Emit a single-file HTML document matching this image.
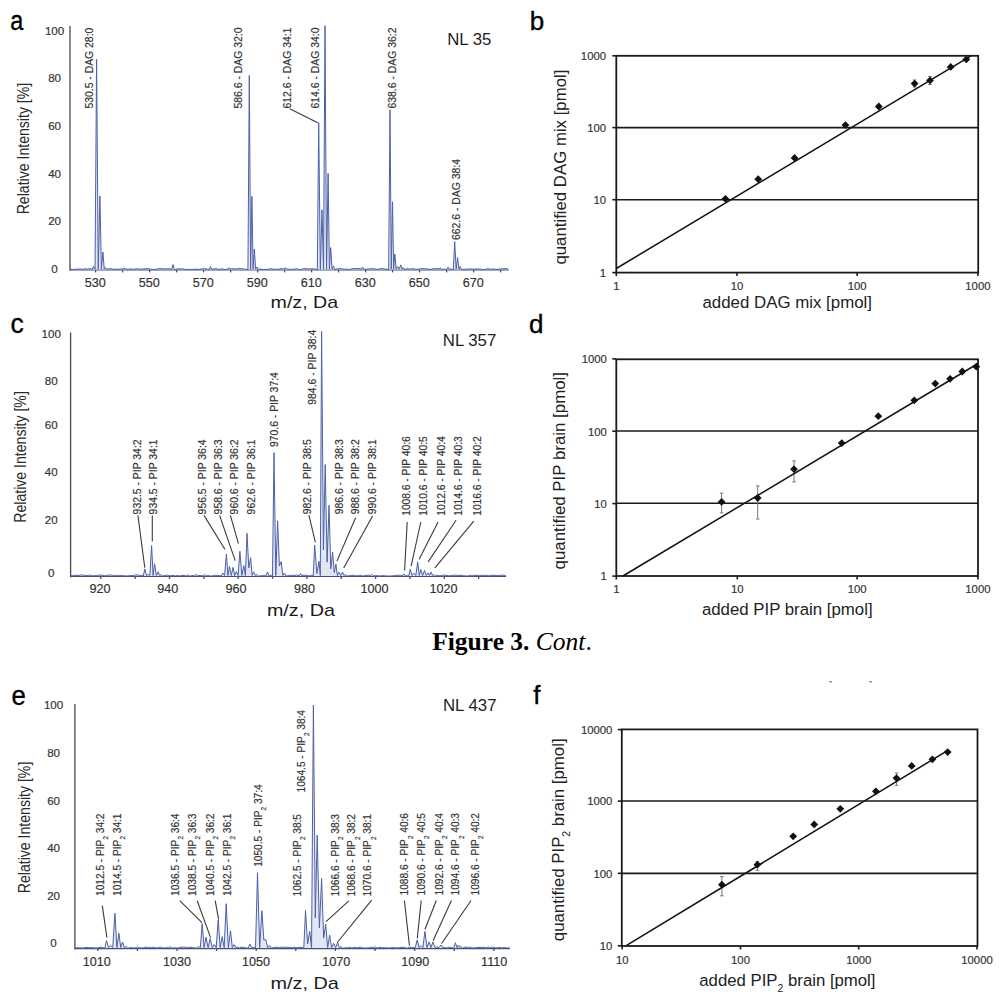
<!DOCTYPE html><html><head><meta charset="utf-8"><style>html,body{margin:0;padding:0;background:#fff;}svg{display:block;}text{font-family:"Liberation Sans",sans-serif;}.w{stroke:#333;stroke-width:0.18px;}</style></head><body>
<svg width="1003" height="1000" viewBox="0 0 1003 1000">
<rect width="1003" height="1000" fill="#fff"/>
<text transform="translate(10.3,29.7) scale(0.84,1)" font-size="28" fill="#000" style="stroke:#000;stroke-width:0.35px">a</text>
<text transform="translate(529.8,29.9) scale(1,1)" font-size="26" fill="#000" style="stroke:#000;stroke-width:0.35px">b</text>
<text transform="translate(10.4,333.1) scale(0.95,1)" font-size="28" fill="#000" style="stroke:#000;stroke-width:0.35px">c</text>
<text transform="translate(528.9,332.9) scale(1,1)" font-size="26" fill="#000" style="stroke:#000;stroke-width:0.35px">d</text>
<text transform="translate(11.4,704.6) scale(0.92,1)" font-size="28" fill="#000" style="stroke:#000;stroke-width:0.35px">e</text>
<text transform="translate(533.3,703.9) scale(1,1)" font-size="26" fill="#000" style="stroke:#000;stroke-width:0.35px">f</text>
<line x1="70.00" y1="270.00" x2="508.60" y2="270.00" stroke="#4a5075" stroke-width="1.2"/>
<line x1="95.60" y1="270.00" x2="95.60" y2="272.40" stroke="#4a5075" stroke-width="1.3"/>
<line x1="122.60" y1="270.00" x2="122.60" y2="272.40" stroke="#4a5075" stroke-width="1.3"/>
<line x1="149.60" y1="270.00" x2="149.60" y2="272.40" stroke="#4a5075" stroke-width="1.3"/>
<line x1="176.60" y1="270.00" x2="176.60" y2="272.40" stroke="#4a5075" stroke-width="1.3"/>
<line x1="203.60" y1="270.00" x2="203.60" y2="272.40" stroke="#4a5075" stroke-width="1.3"/>
<line x1="230.60" y1="270.00" x2="230.60" y2="272.40" stroke="#4a5075" stroke-width="1.3"/>
<line x1="257.60" y1="270.00" x2="257.60" y2="272.40" stroke="#4a5075" stroke-width="1.3"/>
<line x1="284.60" y1="270.00" x2="284.60" y2="272.40" stroke="#4a5075" stroke-width="1.3"/>
<line x1="311.60" y1="270.00" x2="311.60" y2="272.40" stroke="#4a5075" stroke-width="1.3"/>
<line x1="338.60" y1="270.00" x2="338.60" y2="272.40" stroke="#4a5075" stroke-width="1.3"/>
<line x1="365.60" y1="270.00" x2="365.60" y2="272.40" stroke="#4a5075" stroke-width="1.3"/>
<line x1="392.60" y1="270.00" x2="392.60" y2="272.40" stroke="#4a5075" stroke-width="1.3"/>
<line x1="419.60" y1="270.00" x2="419.60" y2="272.40" stroke="#4a5075" stroke-width="1.3"/>
<line x1="446.60" y1="270.00" x2="446.60" y2="272.40" stroke="#4a5075" stroke-width="1.3"/>
<line x1="473.60" y1="270.00" x2="473.60" y2="272.40" stroke="#4a5075" stroke-width="1.3"/>
<line x1="500.60" y1="270.00" x2="500.60" y2="272.40" stroke="#4a5075" stroke-width="1.3"/>
<path d="M70.00,269.50 L72.15,269.35 L74.92,269.43 L77.48,269.13 L79.19,268.99 L80.86,269.07 L82.58,269.41 L84.95,268.67 L86.77,269.28 L89.50,268.55 L92.15,269.50 L93.50,266.50 L95.05,269.00 L96.60,59.40 L98.25,269.00 L99.90,196.00 L101.40,269.00 L102.90,252.00 L104.25,269.00 L105.60,267.50 L106.95,269.50 L109.24,268.52 L110.93,268.64 L113.05,269.36 L114.86,269.19 L117.93,269.32 L120.58,268.86 L122.80,269.20 L124.00,268.00 L125.20,269.20 L126.50,268.95 L128.21,269.44 L130.18,268.82 L132.55,269.19 L135.21,269.05 L137.35,268.71 L140.21,269.26 L142.84,268.97 L146.01,268.77 L148.13,268.52 L149.95,269.08 L152.91,269.35 L155.39,269.46 L158.19,268.74 L160.82,268.62 L162.99,268.80 L165.66,268.92 L168.08,268.66 L171.38,269.03 L171.80,269.20 L173.00,264.50 L174.20,269.20 L175.50,269.44 L178.36,268.85 L181.75,268.68 L183.86,269.11 L186.67,269.48 L189.10,269.33 L190.91,269.44 L193.89,269.37 L195.94,269.11 L199.11,269.42 L201.51,268.95 L204.70,268.68 L207.86,269.22 L209.30,269.20 L210.50,266.50 L211.70,269.20 L213.00,269.14 L216.19,268.54 L218.06,269.32 L220.08,269.27 L222.55,268.91 L224.63,269.50 L226.98,269.13 L227.80,269.20 L229.00,267.80 L230.20,269.20 L231.50,268.55 L234.34,268.98 L237.05,268.82 L238.75,268.60 L241.76,268.63 L244.79,269.11 L247.95,269.50 L249.30,75.40 L250.60,269.00 L251.90,196.30 L253.10,269.00 L254.30,249.00 L255.65,269.00 L257.00,267.00 L258.35,269.50 L260.06,268.87 L261.77,269.43 L263.74,269.34 L265.96,269.45 L267.56,269.35 L269.34,269.14 L270.99,268.63 L273.69,269.35 L275.75,269.15 L278.00,269.38 L281.13,268.51 L283.80,269.20 L285.00,267.60 L286.20,269.20 L287.50,269.02 L289.25,269.40 L291.47,269.24 L294.56,269.34 L296.20,268.55 L298.76,269.35 L301.33,269.47 L303.88,268.52 L307.04,268.80 L309.11,269.13 L311.01,268.73 L313.57,268.72 L315.76,269.28 L317.35,269.50 L318.70,122.70 L320.35,269.00 L322.00,209.90 L323.50,269.00 L325.00,25.70 L326.55,269.00 L328.10,173.40 L329.40,269.00 L330.70,247.60 L332.05,269.00 L333.40,266.00 L334.75,269.50 L338.22,268.65 L341.27,268.68 L344.20,269.27 L346.73,269.14 L348.39,269.47 L350.49,269.24 L353.34,268.54 L355.74,268.56 L359.12,268.54 L361.30,269.20 L362.50,267.00 L363.70,269.20 L365.00,269.28 L367.01,269.30 L368.98,268.88 L372.20,268.66 L374.66,268.85 L377.70,269.42 L380.49,268.59 L383.50,268.75 L385.96,269.32 L388.65,269.50 L390.00,109.90 L391.25,269.00 L392.50,201.80 L393.65,269.00 L394.80,254.00 L396.20,269.00 L397.60,266.50 L399.20,269.00 L400.80,264.90 L402.05,269.00 L403.30,267.50 L404.65,269.50 L406.82,268.70 L410.16,269.10 L412.49,268.55 L415.39,269.33 L417.22,269.35 L420.45,268.69 L422.31,268.67 L425.68,268.84 L427.91,268.95 L429.74,269.49 L433.09,268.85 L435.64,268.57 L438.02,268.63 L438.80,269.20 L440.00,267.80 L441.20,269.20 L442.50,269.29 L444.55,269.21 L446.80,269.20 L448.00,267.20 L449.20,269.20 L450.50,268.91 L453.35,269.50 L454.70,241.60 L456.15,269.00 L457.60,257.60 L458.90,269.00 L460.20,266.50 L461.55,269.50 L463.89,269.37 L467.13,269.15 L469.55,268.92 L472.78,269.08 L476.03,269.00 L478.59,268.98 L480.22,269.06 L482.15,269.50 L485.19,269.33 L487.64,268.77 L490.24,269.17 L492.78,268.94 L495.79,269.39 L498.40,269.25 L500.50,268.73 L503.01,268.94 L505.98,268.59 L508.60,269.50" fill="#b9c2e2" fill-opacity="0.4" stroke="#4d60a8" stroke-width="1.0" stroke-linejoin="round"/>
<line x1="70.00" y1="26.00" x2="70.00" y2="270.80" stroke="#4a4a4a" stroke-width="1.3"/>
<text x="54.60" y="34.60" font-size="11.6" text-anchor="middle" fill="#333" class="w">100</text>
<text x="54.60" y="82.30" font-size="11.6" text-anchor="middle" fill="#333" class="w">80</text>
<text x="54.60" y="129.90" font-size="11.6" text-anchor="middle" fill="#333" class="w">60</text>
<text x="54.60" y="177.60" font-size="11.6" text-anchor="middle" fill="#333" class="w">40</text>
<text x="54.60" y="225.20" font-size="11.6" text-anchor="middle" fill="#333" class="w">20</text>
<text x="54.60" y="272.90" font-size="11.6" text-anchor="middle" fill="#333" class="w">0</text>
<text x="95.30" y="286.50" font-size="12.6" text-anchor="middle" fill="#333" class="w">530</text>
<text x="149.30" y="286.50" font-size="12.6" text-anchor="middle" fill="#333" class="w">550</text>
<text x="203.30" y="286.50" font-size="12.6" text-anchor="middle" fill="#333" class="w">570</text>
<text x="257.30" y="286.50" font-size="12.6" text-anchor="middle" fill="#333" class="w">590</text>
<text x="311.30" y="286.50" font-size="12.6" text-anchor="middle" fill="#333" class="w">610</text>
<text x="365.30" y="286.50" font-size="12.6" text-anchor="middle" fill="#333" class="w">630</text>
<text x="419.30" y="286.50" font-size="12.6" text-anchor="middle" fill="#333" class="w">650</text>
<text x="473.30" y="286.50" font-size="12.6" text-anchor="middle" fill="#333" class="w">670</text>
<text x="270.60" y="308.10" font-size="16.4" text-anchor="start" fill="#1a1a1a" textLength="67.5" lengthAdjust="spacingAndGlyphs" >m/z, Da</text>
<text transform="translate(29.00,214.30) rotate(-90)" font-size="16" fill="#2a2a2a" textLength="131.5" lengthAdjust="spacingAndGlyphs">Relative Intensity [%]</text>
<text x="447.20" y="45.00" font-size="16.8" text-anchor="start" fill="#1e1e1e" >NL 35</text>
<text transform="translate(92.51,108.60) rotate(-90) scale(0.93,1)" font-size="11.2" fill="#333" class="w">530.5 - DAG 28:0</text>
<text transform="translate(242.31,108.50) rotate(-90) scale(0.93,1)" font-size="11.2" fill="#333" class="w">586.6 - DAG 32:0</text>
<text transform="translate(290.81,108.50) rotate(-90) scale(0.93,1)" font-size="11.2" fill="#333" class="w">612.6 - DAG 34:1</text>
<text transform="translate(318.71,108.50) rotate(-90) scale(0.93,1)" font-size="11.2" fill="#333" class="w">614.6 - DAG 34:0</text>
<text transform="translate(395.51,108.50) rotate(-90) scale(0.93,1)" font-size="11.2" fill="#333" class="w">638.6 - DAG 36:2</text>
<text transform="translate(460.31,240.00) rotate(-90) scale(0.93,1)" font-size="11.2" fill="#333" class="w">662.6 - DAG 38:4</text>
<line x1="289.80" y1="108.70" x2="317.70" y2="122.70" stroke="#3a3a3a" stroke-width="1.1"/>
<line x1="70.60" y1="576.50" x2="506.10" y2="576.50" stroke="#4a5075" stroke-width="1.2"/>
<line x1="100.80" y1="576.50" x2="100.80" y2="578.90" stroke="#4a5075" stroke-width="1.3"/>
<line x1="135.15" y1="576.50" x2="135.15" y2="578.90" stroke="#4a5075" stroke-width="1.3"/>
<line x1="169.50" y1="576.50" x2="169.50" y2="578.90" stroke="#4a5075" stroke-width="1.3"/>
<line x1="203.85" y1="576.50" x2="203.85" y2="578.90" stroke="#4a5075" stroke-width="1.3"/>
<line x1="238.20" y1="576.50" x2="238.20" y2="578.90" stroke="#4a5075" stroke-width="1.3"/>
<line x1="272.55" y1="576.50" x2="272.55" y2="578.90" stroke="#4a5075" stroke-width="1.3"/>
<line x1="306.90" y1="576.50" x2="306.90" y2="578.90" stroke="#4a5075" stroke-width="1.3"/>
<line x1="341.25" y1="576.50" x2="341.25" y2="578.90" stroke="#4a5075" stroke-width="1.3"/>
<line x1="375.60" y1="576.50" x2="375.60" y2="578.90" stroke="#4a5075" stroke-width="1.3"/>
<line x1="409.95" y1="576.50" x2="409.95" y2="578.90" stroke="#4a5075" stroke-width="1.3"/>
<line x1="444.30" y1="576.50" x2="444.30" y2="578.90" stroke="#4a5075" stroke-width="1.3"/>
<line x1="478.65" y1="576.50" x2="478.65" y2="578.90" stroke="#4a5075" stroke-width="1.3"/>
<path d="M70.60,576.00 L73.33,575.49 L75.85,575.31 L78.26,575.47 L80.72,575.06 L83.58,575.12 L86.88,575.74 L89.48,575.06 L92.60,575.86 L94.41,575.56 L96.14,575.76 L97.88,575.33 L100.89,575.10 L102.77,575.28 L105.55,575.86 L108.74,575.03 L110.74,575.05 L113.06,575.51 L113.80,575.70 L115.00,575.00 L116.20,575.70 L117.50,575.17 L119.39,575.57 L121.92,575.66 L123.87,575.68 L126.77,575.98 L129.37,575.56 L131.00,575.67 L133.72,575.49 L135.44,575.01 L138.46,575.03 L140.25,575.73 L141.92,575.22 L143.30,576.00 L144.80,568.90 L146.50,575.50 L148.20,574.50 L149.90,575.50 L151.60,545.50 L153.10,575.50 L154.60,563.80 L156.40,575.50 L158.20,571.90 L159.60,575.50 L161.00,574.50 L162.50,576.00 L164.26,575.58 L167.50,575.18 L169.57,575.85 L172.82,575.43 L175.68,575.91 L177.38,575.31 L179.75,575.93 L183.04,575.37 L186.08,575.92 L186.80,575.70 L188.00,574.80 L189.20,575.70 L190.50,575.93 L193.65,575.55 L194.80,575.70 L196.00,574.30 L197.20,575.70 L198.50,575.45 L201.77,575.73 L203.80,575.70 L205.00,574.50 L206.20,575.70 L207.50,575.47 L209.53,575.89 L211.42,575.95 L213.38,575.69 L215.53,575.24 L217.65,575.50 L219.57,575.65 L221.30,576.00 L222.80,573.00 L224.60,575.50 L226.40,554.00 L227.95,575.50 L229.50,566.50 L231.25,575.50 L233.00,567.40 L234.65,575.50 L236.30,571.50 L238.10,575.50 L239.90,551.30 L241.85,575.50 L243.80,565.60 L245.40,575.50 L247.00,533.30 L248.80,568.00 L250.60,557.60 L252.15,575.50 L253.70,571.90 L255.35,575.50 L257.00,574.50 L258.50,576.00 L260.50,575.98 L263.42,575.45 L266.00,576.00 L267.50,571.90 L269.00,576.00 L271.45,575.07 L272.50,576.00 L274.00,452.60 L275.80,575.50 L277.60,520.80 L279.40,566.00 L281.20,561.70 L282.85,575.50 L284.50,573.00 L286.00,576.00 L289.14,575.57 L291.63,575.17 L293.94,575.49 L296.77,575.02 L299.30,575.70 L300.50,573.50 L301.70,575.70 L303.00,575.17 L305.87,575.36 L308.20,575.65 L309.90,575.87 L311.63,575.26 L313.20,576.00 L314.70,545.10 L316.85,573.60 L319.00,561.30 L320.30,575.50 L321.60,331.50 L323.40,549.90 L325.20,464.50 L327.10,562.20 L329.00,505.20 L330.80,568.90 L332.60,552.20 L334.25,572.70 L335.90,564.10 L337.40,575.50 L338.90,572.10 L340.75,575.50 L342.60,572.10 L344.05,575.50 L345.50,574.50 L347.00,576.00 L348.83,575.92 L351.94,575.13 L354.75,575.72 L356.78,575.71 L358.80,575.70 L360.00,574.80 L361.20,575.70 L362.50,575.84 L364.90,575.74 L368.23,575.03 L370.80,575.70 L372.00,574.40 L373.20,575.70 L374.50,575.76 L377.84,575.69 L380.08,576.00 L382.37,575.53 L384.87,575.80 L387.38,576.00 L389.46,575.91 L391.78,575.96 L393.42,575.70 L395.43,575.41 L397.99,575.25 L400.77,575.28 L402.30,576.00 L403.80,573.80 L405.30,576.00 L407.58,575.67 L408.70,576.00 L410.20,569.20 L412.05,575.50 L413.90,573.20 L415.80,575.50 L417.70,561.90 L419.25,575.50 L420.80,569.50 L422.65,575.50 L424.50,570.40 L426.30,575.50 L428.10,572.90 L429.55,575.50 L431.00,572.00 L432.50,575.50 L434.00,574.50 L435.50,576.00 L437.30,575.28 L440.06,575.96 L443.16,575.11 L445.89,575.27 L448.95,575.86 L451.49,575.50 L454.60,575.20 L457.68,575.42 L460.89,575.32 L463.74,575.77 L465.40,575.87 L467.65,575.90 L468.80,575.70 L470.00,575.00 L471.20,575.70 L472.50,575.44 L475.23,575.37 L478.06,575.51 L479.66,575.20 L482.61,575.50 L485.17,575.34 L486.89,575.26 L488.94,575.93 L491.02,575.27 L492.99,575.26 L496.35,575.51 L498.64,575.52 L501.47,575.23 L504.18,575.36 L506.10,576.00" fill="#b9c2e2" fill-opacity="0.4" stroke="#4d60a8" stroke-width="1.0" stroke-linejoin="round"/>
<line x1="70.60" y1="332.60" x2="70.60" y2="577.30" stroke="#4a4a4a" stroke-width="1.3"/>
<text x="51.20" y="337.70" font-size="11.6" text-anchor="middle" fill="#333" class="w">100</text>
<text x="51.20" y="385.30" font-size="11.6" text-anchor="middle" fill="#333" class="w">80</text>
<text x="51.20" y="428.50" font-size="11.6" text-anchor="middle" fill="#333" class="w">60</text>
<text x="51.20" y="476.20" font-size="11.6" text-anchor="middle" fill="#333" class="w">40</text>
<text x="51.20" y="523.80" font-size="11.6" text-anchor="middle" fill="#333" class="w">20</text>
<text x="51.20" y="576.50" font-size="11.6" text-anchor="middle" fill="#333" class="w">0</text>
<text x="100.10" y="592.90" font-size="12.6" text-anchor="middle" fill="#333" class="w">920</text>
<text x="167.80" y="592.90" font-size="12.6" text-anchor="middle" fill="#333" class="w">940</text>
<text x="236.10" y="592.90" font-size="12.6" text-anchor="middle" fill="#333" class="w">960</text>
<text x="304.60" y="592.90" font-size="12.6" text-anchor="middle" fill="#333" class="w">980</text>
<text x="374.50" y="592.90" font-size="12.6" text-anchor="middle" fill="#333" class="w">1000</text>
<text x="443.40" y="592.90" font-size="12.6" text-anchor="middle" fill="#333" class="w">1020</text>
<text x="266.90" y="616.00" font-size="16.4" text-anchor="start" fill="#1a1a1a" textLength="68.0" lengthAdjust="spacingAndGlyphs" >m/z, Da</text>
<text transform="translate(26.00,522.70) rotate(-90)" font-size="16" fill="#2a2a2a" textLength="131.5" lengthAdjust="spacingAndGlyphs">Relative Intensity [%]</text>
<text x="442.80" y="346.40" font-size="16.8" text-anchor="start" fill="#1e1e1e" >NL 357</text>
<text transform="translate(140.51,514.40) rotate(-90) scale(0.93,1)" font-size="11.2" fill="#333" class="w">932.5 - PIP 34:2</text>
<text transform="translate(157.21,514.40) rotate(-90) scale(0.93,1)" font-size="11.2" fill="#333" class="w">934.5 - PIP 34:1</text>
<text transform="translate(205.71,514.40) rotate(-90) scale(0.93,1)" font-size="11.2" fill="#333" class="w">956.5 - PIP 36:4</text>
<text transform="translate(221.81,514.40) rotate(-90) scale(0.93,1)" font-size="11.2" fill="#333" class="w">958.6 - PIP 36:3</text>
<text transform="translate(238.01,514.40) rotate(-90) scale(0.93,1)" font-size="11.2" fill="#333" class="w">960.6 - PIP 36:2</text>
<text transform="translate(254.71,514.40) rotate(-90) scale(0.93,1)" font-size="11.2" fill="#333" class="w">962.6 - PIP 36:1</text>
<text transform="translate(277.71,447.10) rotate(-90) scale(0.93,1)" font-size="11.2" fill="#333" class="w">970.6 - PIP 37:4</text>
<text transform="translate(311.21,514.30) rotate(-90) scale(0.93,1)" font-size="11.2" fill="#333" class="w">982.6 - PIP 38:5</text>
<text transform="translate(315.91,404.70) rotate(-90) scale(0.93,1)" font-size="11.2" fill="#333" class="w">984.6 - PIP 38:4</text>
<text transform="translate(342.61,514.30) rotate(-90) scale(0.93,1)" font-size="11.2" fill="#333" class="w">986.6 - PIP 38:3</text>
<text transform="translate(359.31,514.30) rotate(-90) scale(0.93,1)" font-size="11.2" fill="#333" class="w">988.6 - PIP 38:2</text>
<text transform="translate(375.81,514.30) rotate(-90) scale(0.93,1)" font-size="11.2" fill="#333" class="w">990.6 - PIP 38:1</text>
<text transform="translate(409.81,515.80) rotate(-90) scale(0.915,1)" font-size="11.2" fill="#333" class="w">1008.6 - PIP 40:6</text>
<text transform="translate(427.31,515.80) rotate(-90) scale(0.915,1)" font-size="11.2" fill="#333" class="w">1010.6 - PIP 40:5</text>
<text transform="translate(444.81,515.80) rotate(-90) scale(0.915,1)" font-size="11.2" fill="#333" class="w">1012.6 - PIP 40:4</text>
<text transform="translate(462.21,515.80) rotate(-90) scale(0.915,1)" font-size="11.2" fill="#333" class="w">1014.6 - PIP 40:3</text>
<text transform="translate(481.21,515.80) rotate(-90) scale(0.915,1)" font-size="11.2" fill="#333" class="w">1016.6 - PIP 40:2</text>
<line x1="137.90" y1="515.40" x2="144.80" y2="567.80" stroke="#3a3a3a" stroke-width="1.1"/>
<line x1="152.30" y1="515.40" x2="152.30" y2="541.40" stroke="#3a3a3a" stroke-width="1.1"/>
<line x1="204.00" y1="515.40" x2="225.00" y2="549.50" stroke="#3a3a3a" stroke-width="1.1"/>
<line x1="219.60" y1="515.40" x2="235.20" y2="560.60" stroke="#3a3a3a" stroke-width="1.1"/>
<line x1="230.40" y1="515.40" x2="238.40" y2="543.70" stroke="#3a3a3a" stroke-width="1.1"/>
<line x1="308.90" y1="515.20" x2="315.40" y2="542.40" stroke="#3a3a3a" stroke-width="1.1"/>
<line x1="355.60" y1="517.70" x2="336.90" y2="561.10" stroke="#3a3a3a" stroke-width="1.1"/>
<line x1="372.60" y1="516.00" x2="343.70" y2="567.90" stroke="#3a3a3a" stroke-width="1.1"/>
<line x1="407.20" y1="522.00" x2="404.60" y2="570.40" stroke="#3a3a3a" stroke-width="1.1"/>
<line x1="420.80" y1="522.00" x2="411.10" y2="566.10" stroke="#3a3a3a" stroke-width="1.1"/>
<line x1="438.10" y1="522.00" x2="419.10" y2="559.30" stroke="#3a3a3a" stroke-width="1.1"/>
<line x1="456.10" y1="520.20" x2="428.10" y2="561.90" stroke="#3a3a3a" stroke-width="1.1"/>
<line x1="473.80" y1="521.10" x2="434.90" y2="567.80" stroke="#3a3a3a" stroke-width="1.1"/>
<line x1="74.90" y1="948.60" x2="510.00" y2="948.60" stroke="#4a5075" stroke-width="1.2"/>
<line x1="97.80" y1="948.60" x2="97.80" y2="951.00" stroke="#4a5075" stroke-width="1.3"/>
<line x1="137.40" y1="948.60" x2="137.40" y2="951.00" stroke="#4a5075" stroke-width="1.3"/>
<line x1="177.00" y1="948.60" x2="177.00" y2="951.00" stroke="#4a5075" stroke-width="1.3"/>
<line x1="216.60" y1="948.60" x2="216.60" y2="951.00" stroke="#4a5075" stroke-width="1.3"/>
<line x1="256.20" y1="948.60" x2="256.20" y2="951.00" stroke="#4a5075" stroke-width="1.3"/>
<line x1="295.80" y1="948.60" x2="295.80" y2="951.00" stroke="#4a5075" stroke-width="1.3"/>
<line x1="335.40" y1="948.60" x2="335.40" y2="951.00" stroke="#4a5075" stroke-width="1.3"/>
<line x1="375.00" y1="948.60" x2="375.00" y2="951.00" stroke="#4a5075" stroke-width="1.3"/>
<line x1="414.60" y1="948.60" x2="414.60" y2="951.00" stroke="#4a5075" stroke-width="1.3"/>
<line x1="454.20" y1="948.60" x2="454.20" y2="951.00" stroke="#4a5075" stroke-width="1.3"/>
<line x1="493.80" y1="948.60" x2="493.80" y2="951.00" stroke="#4a5075" stroke-width="1.3"/>
<path d="M74.90,948.10 L76.69,947.85 L79.63,947.80 L82.25,948.09 L83.96,947.83 L86.77,947.41 L89.59,947.81 L92.12,947.64 L94.56,947.98 L97.77,947.90 L101.13,947.16 L102.76,947.64 L104.80,948.10 L106.50,940.60 L108.55,947.60 L110.60,945.50 L112.75,947.60 L114.90,913.30 L116.90,947.60 L118.90,933.20 L120.70,947.60 L122.50,942.00 L124.35,947.60 L126.20,946.50 L127.90,948.10 L131.34,947.65 L133.42,947.89 L136.30,947.80 L137.50,946.50 L138.70,947.80 L140.00,947.89 L142.65,947.96 L145.19,947.15 L147.03,947.28 L148.80,947.80 L150.00,947.00 L151.20,947.80 L152.50,947.21 L155.37,947.87 L158.80,947.80 L160.00,946.80 L161.20,947.80 L162.50,947.61 L164.14,948.10 L166.63,947.65 L168.80,947.80 L170.00,946.50 L171.20,947.80 L172.50,947.96 L174.72,947.78 L177.83,948.10 L180.78,947.26 L182.60,947.17 L185.48,947.20 L187.60,947.73 L189.91,947.10 L192.57,947.74 L194.94,947.82 L196.80,948.10 L198.50,946.50 L200.35,947.60 L202.20,923.60 L204.10,947.60 L206.00,937.20 L208.10,947.60 L210.20,938.60 L212.20,947.60 L214.20,944.50 L216.20,947.60 L218.20,919.60 L220.20,947.60 L222.20,936.60 L224.20,947.60 L226.20,903.70 L228.35,947.60 L230.50,930.60 L232.30,947.60 L234.10,944.60 L235.85,947.60 L237.60,947.00 L239.30,948.10 L241.00,947.27 L243.12,947.16 L245.17,947.83 L248.20,948.10 L249.90,944.00 L251.70,947.60 L253.50,947.50 L255.50,947.60 L257.50,872.80 L259.70,947.60 L261.90,910.70 L263.85,940.00 L265.80,939.60 L267.65,947.60 L269.50,945.50 L271.20,948.10 L273.08,947.73 L276.40,947.22 L279.46,947.47 L282.71,947.16 L285.30,947.38 L286.98,947.37 L289.40,947.35 L292.16,947.81 L293.84,947.17 L295.67,947.63 L297.89,947.80 L300.82,947.12 L303.80,948.10 L305.50,910.50 L307.60,944.00 L309.70,931.30 L311.55,947.60 L313.40,705.10 L315.30,917.70 L317.20,835.20 L319.40,928.00 L321.60,878.50 L323.65,938.00 L325.70,924.10 L327.65,947.60 L329.60,935.30 L331.65,947.60 L333.70,943.30 L335.65,947.60 L337.60,942.50 L339.30,947.60 L341.00,946.50 L342.70,948.10 L345.51,947.80 L348.12,947.71 L348.80,947.80 L350.00,946.80 L351.20,947.80 L352.50,947.94 L354.47,947.19 L356.97,947.88 L360.20,947.10 L362.61,947.96 L364.56,948.01 L366.77,948.01 L368.80,947.84 L371.43,947.21 L373.80,947.80 L375.00,946.50 L376.20,947.80 L377.50,947.69 L378.80,947.80 L380.00,947.00 L381.20,947.80 L382.50,947.58 L384.78,947.76 L386.49,947.82 L389.83,947.97 L392.34,947.47 L395.49,947.88 L397.58,947.85 L399.90,947.65 L403.22,947.25 L406.39,948.08 L407.70,948.10 L409.40,947.00 L411.35,947.60 L413.30,947.50 L415.25,947.60 L417.20,939.90 L419.05,947.60 L420.90,945.50 L422.90,947.60 L424.90,931.50 L427.00,947.60 L429.10,941.90 L431.00,947.60 L432.90,941.90 L434.90,947.60 L436.90,947.00 L439.00,947.60 L441.10,945.00 L442.80,947.60 L444.50,947.30 L446.20,948.10 L449.12,947.20 L451.57,947.51 L453.70,948.10 L455.40,942.70 L456.95,947.60 L458.50,945.00 L459.75,947.60 L461.00,946.50 L462.70,948.10 L464.98,947.17 L468.07,947.24 L468.80,947.80 L470.00,947.00 L471.20,947.80 L472.50,947.85 L474.30,947.95 L476.84,947.42 L480.13,947.38 L482.90,947.34 L485.32,947.55 L486.80,947.80 L488.00,946.80 L489.20,947.80 L490.50,947.32 L492.52,947.18 L495.28,947.80 L497.11,947.85 L499.86,947.40 L501.66,948.03 L504.20,947.52 L506.50,947.88 L510.00,948.10" fill="#b9c2e2" fill-opacity="0.4" stroke="#4d60a8" stroke-width="1.0" stroke-linejoin="round"/>
<line x1="74.90" y1="704.00" x2="74.90" y2="949.40" stroke="#4a4a4a" stroke-width="1.3"/>
<text x="53.60" y="708.80" font-size="11.6" text-anchor="middle" fill="#333" class="w">100</text>
<text x="53.60" y="757.30" font-size="11.6" text-anchor="middle" fill="#333" class="w">80</text>
<text x="53.60" y="804.70" font-size="11.6" text-anchor="middle" fill="#333" class="w">60</text>
<text x="53.60" y="852.40" font-size="11.6" text-anchor="middle" fill="#333" class="w">40</text>
<text x="53.60" y="900.00" font-size="11.6" text-anchor="middle" fill="#333" class="w">20</text>
<text x="53.60" y="947.10" font-size="11.6" text-anchor="middle" fill="#333" class="w">0</text>
<text x="96.70" y="965.90" font-size="12.6" text-anchor="middle" fill="#333" class="w">1010</text>
<text x="177.00" y="965.90" font-size="12.6" text-anchor="middle" fill="#333" class="w">1030</text>
<text x="256.00" y="965.90" font-size="12.6" text-anchor="middle" fill="#333" class="w">1050</text>
<text x="336.20" y="965.90" font-size="12.6" text-anchor="middle" fill="#333" class="w">1070</text>
<text x="415.20" y="965.90" font-size="12.6" text-anchor="middle" fill="#333" class="w">1090</text>
<text x="494.20" y="965.90" font-size="12.6" text-anchor="middle" fill="#333" class="w">1110</text>
<text x="270.60" y="989.00" font-size="16.4" text-anchor="start" fill="#1a1a1a" textLength="68.2" lengthAdjust="spacingAndGlyphs" >m/z, Da</text>
<text transform="translate(30.00,893.20) rotate(-90)" font-size="16" fill="#2a2a2a" textLength="131.5" lengthAdjust="spacingAndGlyphs">Relative Intensity [%]</text>
<text x="443.00" y="710.50" font-size="16.8" text-anchor="start" fill="#1e1e1e" >NL 437</text>
<text transform="translate(104.17,896.00) rotate(-90) scale(0.94,1)" font-size="10.8" fill="#333" class="w">1012.5 - PIP<tspan font-size="6.8" dy="4.2">2</tspan><tspan dy="-4.2"> 34:2</tspan></text>
<text transform="translate(120.77,896.00) rotate(-90) scale(0.94,1)" font-size="10.8" fill="#333" class="w">1014.5 - PIP<tspan font-size="6.8" dy="4.2">2</tspan><tspan dy="-4.2"> 34:1</tspan></text>
<text transform="translate(179.07,896.00) rotate(-90) scale(0.94,1)" font-size="10.8" fill="#333" class="w">1036.5 - PIP<tspan font-size="6.8" dy="4.2">2</tspan><tspan dy="-4.2"> 36:4</tspan></text>
<text transform="translate(196.07,896.00) rotate(-90) scale(0.94,1)" font-size="10.8" fill="#333" class="w">1038.5 - PIP<tspan font-size="6.8" dy="4.2">2</tspan><tspan dy="-4.2"> 36:3</tspan></text>
<text transform="translate(213.97,896.00) rotate(-90) scale(0.94,1)" font-size="10.8" fill="#333" class="w">1040.5 - PIP<tspan font-size="6.8" dy="4.2">2</tspan><tspan dy="-4.2"> 36:2</tspan></text>
<text transform="translate(230.57,896.00) rotate(-90) scale(0.94,1)" font-size="10.8" fill="#333" class="w">1042.5 - PIP<tspan font-size="6.8" dy="4.2">2</tspan><tspan dy="-4.2"> 36:1</tspan></text>
<text transform="translate(261.97,866.80) rotate(-90) scale(0.94,1)" font-size="10.8" fill="#333" class="w">1050.5 - PIP<tspan font-size="6.8" dy="4.2">2</tspan><tspan dy="-4.2"> 37:4</tspan></text>
<text transform="translate(300.87,896.50) rotate(-90) scale(0.94,1)" font-size="10.8" fill="#333" class="w">1062.5 - PIP<tspan font-size="6.8" dy="4.2">2</tspan><tspan dy="-4.2"> 38:5</tspan></text>
<text transform="translate(304.87,792.50) rotate(-90) scale(0.94,1)" font-size="10.8" fill="#333" class="w">1064.5 - PIP<tspan font-size="6.8" dy="4.2">2</tspan><tspan dy="-4.2"> 38:4</tspan></text>
<text transform="translate(338.97,896.50) rotate(-90) scale(0.94,1)" font-size="10.8" fill="#333" class="w">1066.6 - PIP<tspan font-size="6.8" dy="4.2">2</tspan><tspan dy="-4.2"> 38:3</tspan></text>
<text transform="translate(355.37,896.50) rotate(-90) scale(0.94,1)" font-size="10.8" fill="#333" class="w">1068.6 - PIP<tspan font-size="6.8" dy="4.2">2</tspan><tspan dy="-4.2"> 38:2</tspan></text>
<text transform="translate(371.37,896.50) rotate(-90) scale(0.94,1)" font-size="10.8" fill="#333" class="w">1070.6 - PIP<tspan font-size="6.8" dy="4.2">2</tspan><tspan dy="-4.2"> 38:1</tspan></text>
<text transform="translate(408.47,895.50) rotate(-90) scale(0.94,1)" font-size="10.8" fill="#333" class="w">1088.6 - PIP<tspan font-size="6.8" dy="4.2">2</tspan><tspan dy="-4.2"> 40:6</tspan></text>
<text transform="translate(425.27,895.50) rotate(-90) scale(0.94,1)" font-size="10.8" fill="#333" class="w">1090.6 - PIP<tspan font-size="6.8" dy="4.2">2</tspan><tspan dy="-4.2"> 40:5</tspan></text>
<text transform="translate(442.67,895.50) rotate(-90) scale(0.94,1)" font-size="10.8" fill="#333" class="w">1092.6 - PIP<tspan font-size="6.8" dy="4.2">2</tspan><tspan dy="-4.2"> 40:4</tspan></text>
<text transform="translate(459.47,895.50) rotate(-90) scale(0.94,1)" font-size="10.8" fill="#333" class="w">1094.6 - PIP<tspan font-size="6.8" dy="4.2">2</tspan><tspan dy="-4.2"> 40:3</tspan></text>
<text transform="translate(479.07,895.50) rotate(-90) scale(0.94,1)" font-size="10.8" fill="#333" class="w">1096.6 - PIP<tspan font-size="6.8" dy="4.2">2</tspan><tspan dy="-4.2"> 40:2</tspan></text>
<line x1="102.30" y1="905.70" x2="106.90" y2="937.60" stroke="#3a3a3a" stroke-width="1.1"/>
<line x1="179.70" y1="900.70" x2="202.00" y2="922.60" stroke="#3a3a3a" stroke-width="1.1"/>
<line x1="197.20" y1="900.70" x2="210.60" y2="937.60" stroke="#3a3a3a" stroke-width="1.1"/>
<line x1="215.20" y1="900.70" x2="218.60" y2="919.20" stroke="#3a3a3a" stroke-width="1.1"/>
<line x1="348.80" y1="900.90" x2="326.00" y2="921.70" stroke="#3a3a3a" stroke-width="1.1"/>
<line x1="371.70" y1="900.10" x2="337.20" y2="942.50" stroke="#3a3a3a" stroke-width="1.1"/>
<line x1="404.40" y1="900.50" x2="409.40" y2="945.50" stroke="#3a3a3a" stroke-width="1.1"/>
<line x1="421.20" y1="900.50" x2="417.30" y2="938.30" stroke="#3a3a3a" stroke-width="1.1"/>
<line x1="436.30" y1="900.50" x2="424.90" y2="929.50" stroke="#3a3a3a" stroke-width="1.1"/>
<line x1="451.40" y1="900.50" x2="433.10" y2="940.70" stroke="#3a3a3a" stroke-width="1.1"/>
<line x1="471.00" y1="900.50" x2="441.60" y2="943.50" stroke="#3a3a3a" stroke-width="1.1"/>
<line x1="616.30" y1="127.60" x2="978.20" y2="127.60" stroke="#1a1a1a" stroke-width="1.6"/>
<line x1="616.30" y1="199.70" x2="978.20" y2="199.70" stroke="#1a1a1a" stroke-width="1.6"/>
<rect x="616.30" y="55.80" width="361.90" height="216.80" fill="none" stroke="#1a1a1a" stroke-width="1.8"/>
<line x1="612.30" y1="55.80" x2="616.30" y2="55.80" stroke="#1a1a1a" stroke-width="1.6"/>
<text x="606.00" y="60.10" font-size="11.3" text-anchor="end" fill="#333" class="w">1000</text>
<line x1="612.30" y1="127.60" x2="616.30" y2="127.60" stroke="#1a1a1a" stroke-width="1.6"/>
<text x="606.00" y="131.90" font-size="11.3" text-anchor="end" fill="#333" class="w">100</text>
<line x1="612.30" y1="199.70" x2="616.30" y2="199.70" stroke="#1a1a1a" stroke-width="1.6"/>
<text x="606.00" y="204.00" font-size="11.3" text-anchor="end" fill="#333" class="w">10</text>
<line x1="612.30" y1="272.60" x2="616.30" y2="272.60" stroke="#1a1a1a" stroke-width="1.6"/>
<text x="606.00" y="276.90" font-size="11.3" text-anchor="end" fill="#333" class="w">1</text>
<line x1="616.30" y1="272.60" x2="616.30" y2="276.10" stroke="#1a1a1a" stroke-width="1.6"/>
<text x="616.30" y="289.90" font-size="11.3" text-anchor="middle" fill="#333" class="w">1</text>
<line x1="737.00" y1="272.60" x2="737.00" y2="276.10" stroke="#1a1a1a" stroke-width="1.6"/>
<text x="737.00" y="289.90" font-size="11.3" text-anchor="middle" fill="#333" class="w">10</text>
<line x1="857.10" y1="272.60" x2="857.10" y2="276.10" stroke="#1a1a1a" stroke-width="1.6"/>
<text x="857.10" y="289.90" font-size="11.3" text-anchor="middle" fill="#333" class="w">100</text>
<line x1="977.90" y1="272.60" x2="977.90" y2="276.10" stroke="#1a1a1a" stroke-width="1.6"/>
<text x="977.90" y="289.90" font-size="11.3" text-anchor="middle" fill="#333" class="w">1000</text>
<line x1="914.60" y1="80.00" x2="914.60" y2="87.00" stroke="#777" stroke-width="1"/>
<line x1="912.80" y1="80.00" x2="916.40" y2="80.00" stroke="#777" stroke-width="1"/>
<line x1="912.80" y1="87.00" x2="916.40" y2="87.00" stroke="#777" stroke-width="1"/>
<line x1="930.00" y1="76.50" x2="930.00" y2="84.50" stroke="#777" stroke-width="1"/>
<line x1="928.20" y1="76.50" x2="931.80" y2="76.50" stroke="#777" stroke-width="1"/>
<line x1="928.20" y1="84.50" x2="931.80" y2="84.50" stroke="#777" stroke-width="1"/>
<line x1="616.30" y1="268.50" x2="971.00" y2="55.80" stroke="#111" stroke-width="1.5"/>
<path d="M725.40,194.90 L729.30,198.80 L725.40,202.70 L721.50,198.80Z" fill="#111"/>
<path d="M758.20,175.30 L762.10,179.20 L758.20,183.10 L754.30,179.20Z" fill="#111"/>
<path d="M794.60,154.00 L798.50,157.90 L794.60,161.80 L790.70,157.90Z" fill="#111"/>
<path d="M845.40,121.20 L849.30,125.10 L845.40,129.00 L841.50,125.10Z" fill="#111"/>
<path d="M878.80,102.60 L882.70,106.50 L878.80,110.40 L874.90,106.50Z" fill="#111"/>
<path d="M914.60,79.70 L918.50,83.60 L914.60,87.50 L910.70,83.60Z" fill="#111"/>
<path d="M930.00,76.50 L933.90,80.40 L930.00,84.30 L926.10,80.40Z" fill="#111"/>
<path d="M950.70,63.00 L954.60,66.90 L950.70,70.80 L946.80,66.90Z" fill="#111"/>
<path d="M966.30,55.50 L970.20,59.40 L966.30,63.30 L962.40,59.40Z" fill="#111"/>
<text x="702.50" y="308.40" font-size="16.8" fill="#222" textLength="169.5" lengthAdjust="spacingAndGlyphs">added DAG mix [pmol]</text>
<text transform="translate(565.66,264.60) rotate(-90)" font-size="16.8" fill="#222" textLength="195.0" lengthAdjust="spacingAndGlyphs">quantified DAG mix [pmol]</text>
<line x1="616.30" y1="431.00" x2="978.00" y2="431.00" stroke="#1a1a1a" stroke-width="1.6"/>
<line x1="616.30" y1="503.20" x2="978.00" y2="503.20" stroke="#1a1a1a" stroke-width="1.6"/>
<rect x="616.30" y="359.30" width="361.70" height="216.70" fill="none" stroke="#1a1a1a" stroke-width="1.8"/>
<line x1="612.30" y1="358.90" x2="616.30" y2="358.90" stroke="#1a1a1a" stroke-width="1.6"/>
<text x="606.80" y="363.20" font-size="11.3" text-anchor="end" fill="#333" class="w">1000</text>
<line x1="612.30" y1="431.20" x2="616.30" y2="431.20" stroke="#1a1a1a" stroke-width="1.6"/>
<text x="606.80" y="435.50" font-size="11.3" text-anchor="end" fill="#333" class="w">100</text>
<line x1="612.30" y1="503.60" x2="616.30" y2="503.60" stroke="#1a1a1a" stroke-width="1.6"/>
<text x="606.80" y="507.90" font-size="11.3" text-anchor="end" fill="#333" class="w">10</text>
<line x1="612.30" y1="576.10" x2="616.30" y2="576.10" stroke="#1a1a1a" stroke-width="1.6"/>
<text x="606.80" y="580.40" font-size="11.3" text-anchor="end" fill="#333" class="w">1</text>
<line x1="616.30" y1="576.00" x2="616.30" y2="579.50" stroke="#1a1a1a" stroke-width="1.6"/>
<text x="616.30" y="593.30" font-size="11.3" text-anchor="middle" fill="#333" class="w">1</text>
<line x1="737.30" y1="576.00" x2="737.30" y2="579.50" stroke="#1a1a1a" stroke-width="1.6"/>
<text x="737.30" y="593.30" font-size="11.3" text-anchor="middle" fill="#333" class="w">10</text>
<line x1="857.10" y1="576.00" x2="857.10" y2="579.50" stroke="#1a1a1a" stroke-width="1.6"/>
<text x="857.10" y="593.30" font-size="11.3" text-anchor="middle" fill="#333" class="w">100</text>
<line x1="977.90" y1="576.00" x2="977.90" y2="579.50" stroke="#1a1a1a" stroke-width="1.6"/>
<text x="977.90" y="593.30" font-size="11.3" text-anchor="middle" fill="#333" class="w">1000</text>
<line x1="721.60" y1="493.20" x2="721.60" y2="512.90" stroke="#777" stroke-width="1"/>
<line x1="719.80" y1="493.20" x2="723.40" y2="493.20" stroke="#777" stroke-width="1"/>
<line x1="719.80" y1="512.90" x2="723.40" y2="512.90" stroke="#777" stroke-width="1"/>
<line x1="757.70" y1="485.90" x2="757.70" y2="519.00" stroke="#777" stroke-width="1"/>
<line x1="755.90" y1="485.90" x2="759.50" y2="485.90" stroke="#777" stroke-width="1"/>
<line x1="755.90" y1="519.00" x2="759.50" y2="519.00" stroke="#777" stroke-width="1"/>
<line x1="794.00" y1="460.90" x2="794.00" y2="481.90" stroke="#777" stroke-width="1"/>
<line x1="792.20" y1="460.90" x2="795.80" y2="460.90" stroke="#777" stroke-width="1"/>
<line x1="792.20" y1="481.90" x2="795.80" y2="481.90" stroke="#777" stroke-width="1"/>
<line x1="622.90" y1="576.00" x2="978.00" y2="363.50" stroke="#111" stroke-width="1.5"/>
<path d="M721.60,498.00 L725.50,501.90 L721.60,505.80 L717.70,501.90Z" fill="#111"/>
<path d="M757.70,494.10 L761.60,498.00 L757.70,501.90 L753.80,498.00Z" fill="#111"/>
<path d="M794.00,465.30 L797.90,469.20 L794.00,473.10 L790.10,469.20Z" fill="#111"/>
<path d="M841.70,439.20 L845.60,443.10 L841.70,447.00 L837.80,443.10Z" fill="#111"/>
<path d="M878.30,412.30 L882.20,416.20 L878.30,420.10 L874.40,416.20Z" fill="#111"/>
<path d="M914.30,396.40 L918.20,400.30 L914.30,404.20 L910.40,400.30Z" fill="#111"/>
<path d="M935.30,379.70 L939.20,383.60 L935.30,387.50 L931.40,383.60Z" fill="#111"/>
<path d="M950.10,374.90 L954.00,378.80 L950.10,382.70 L946.20,378.80Z" fill="#111"/>
<path d="M962.30,367.60 L966.20,371.50 L962.30,375.40 L958.40,371.50Z" fill="#111"/>
<path d="M976.30,362.80 L980.20,366.70 L976.30,370.60 L972.40,366.70Z" fill="#111"/>
<text x="701.90" y="615.10" font-size="16.8" fill="#222" textLength="170.7" lengthAdjust="spacingAndGlyphs">added PIP brain [pmol]</text>
<text transform="translate(565.36,569.50) rotate(-90)" font-size="16.8" fill="#222" textLength="197.5" lengthAdjust="spacingAndGlyphs">quantified PIP brain [pmol]</text>
<line x1="621.80" y1="801.00" x2="977.50" y2="801.00" stroke="#1a1a1a" stroke-width="1.6"/>
<line x1="621.80" y1="873.40" x2="977.50" y2="873.40" stroke="#1a1a1a" stroke-width="1.6"/>
<rect x="621.80" y="729.40" width="355.70" height="216.60" fill="none" stroke="#1a1a1a" stroke-width="1.8"/>
<line x1="617.80" y1="729.60" x2="621.80" y2="729.60" stroke="#1a1a1a" stroke-width="1.6"/>
<text x="612.30" y="733.90" font-size="11.3" text-anchor="end" fill="#333" class="w">10000</text>
<line x1="617.80" y1="801.10" x2="621.80" y2="801.10" stroke="#1a1a1a" stroke-width="1.6"/>
<text x="612.30" y="805.40" font-size="11.3" text-anchor="end" fill="#333" class="w">1000</text>
<line x1="617.80" y1="873.30" x2="621.80" y2="873.30" stroke="#1a1a1a" stroke-width="1.6"/>
<text x="612.30" y="877.60" font-size="11.3" text-anchor="end" fill="#333" class="w">100</text>
<line x1="617.80" y1="945.80" x2="621.80" y2="945.80" stroke="#1a1a1a" stroke-width="1.6"/>
<text x="612.30" y="950.10" font-size="11.3" text-anchor="end" fill="#333" class="w">10</text>
<line x1="622.20" y1="946.00" x2="622.20" y2="949.50" stroke="#1a1a1a" stroke-width="1.6"/>
<text x="622.20" y="963.70" font-size="11.3" text-anchor="middle" fill="#333" class="w">10</text>
<line x1="740.50" y1="946.00" x2="740.50" y2="949.50" stroke="#1a1a1a" stroke-width="1.6"/>
<text x="740.50" y="963.70" font-size="11.3" text-anchor="middle" fill="#333" class="w">100</text>
<line x1="858.70" y1="946.00" x2="858.70" y2="949.50" stroke="#1a1a1a" stroke-width="1.6"/>
<text x="858.70" y="963.70" font-size="11.3" text-anchor="middle" fill="#333" class="w">1000</text>
<line x1="977.00" y1="946.00" x2="977.00" y2="949.50" stroke="#1a1a1a" stroke-width="1.6"/>
<text x="977.00" y="963.70" font-size="11.3" text-anchor="middle" fill="#333" class="w">10000</text>
<line x1="721.90" y1="876.70" x2="721.90" y2="895.80" stroke="#777" stroke-width="1"/>
<line x1="720.10" y1="876.70" x2="723.70" y2="876.70" stroke="#777" stroke-width="1"/>
<line x1="720.10" y1="895.80" x2="723.70" y2="895.80" stroke="#777" stroke-width="1"/>
<line x1="757.40" y1="861.50" x2="757.40" y2="870.30" stroke="#777" stroke-width="1"/>
<line x1="755.60" y1="861.50" x2="759.20" y2="861.50" stroke="#777" stroke-width="1"/>
<line x1="755.60" y1="870.30" x2="759.20" y2="870.30" stroke="#777" stroke-width="1"/>
<line x1="896.50" y1="773.00" x2="896.50" y2="785.30" stroke="#777" stroke-width="1"/>
<line x1="894.70" y1="773.00" x2="898.30" y2="773.00" stroke="#777" stroke-width="1"/>
<line x1="894.70" y1="785.30" x2="898.30" y2="785.30" stroke="#777" stroke-width="1"/>
<line x1="626.20" y1="945.70" x2="947.90" y2="750.30" stroke="#111" stroke-width="1.5"/>
<path d="M721.90,880.80 L725.80,884.70 L721.90,888.60 L718.00,884.70Z" fill="#111"/>
<path d="M757.40,860.80 L761.30,864.70 L757.40,868.60 L753.50,864.70Z" fill="#111"/>
<path d="M793.20,832.40 L797.10,836.30 L793.20,840.20 L789.30,836.30Z" fill="#111"/>
<path d="M814.20,820.50 L818.10,824.40 L814.20,828.30 L810.30,824.40Z" fill="#111"/>
<path d="M840.30,804.90 L844.20,808.80 L840.30,812.70 L836.40,808.80Z" fill="#111"/>
<path d="M875.90,787.40 L879.80,791.30 L875.90,795.20 L872.00,791.30Z" fill="#111"/>
<path d="M896.50,774.20 L900.40,778.10 L896.50,782.00 L892.60,778.10Z" fill="#111"/>
<path d="M911.70,762.00 L915.60,765.90 L911.70,769.80 L907.80,765.90Z" fill="#111"/>
<path d="M932.40,755.40 L936.30,759.30 L932.40,763.20 L928.50,759.30Z" fill="#111"/>
<path d="M947.70,748.20 L951.60,752.10 L947.70,756.00 L943.80,752.10Z" fill="#111"/>
<text x="699.30" y="986.40" font-size="16.8" fill="#222" textLength="176.2" lengthAdjust="spacingAndGlyphs">added PIP<tspan font-size="10.5" dy="6">2</tspan><tspan dy="-6"> brain [pmol]</tspan></text>
<text transform="translate(563.61,941.20) rotate(-90)" font-size="16.8" fill="#222" textLength="202.8" lengthAdjust="spacingAndGlyphs">quantified PIP<tspan font-size="10.5" dy="6">2</tspan><tspan dy="-6"> brain [pmol]</tspan></text>
<text x="432.2" y="649.6" style="font-family:&quot;Liberation Serif&quot;,serif" font-size="25.5" fill="#000"><tspan font-weight="bold">Figure 3.</tspan> <tspan font-style="italic">Cont</tspan>.</text>
<rect x="829.5" y="681.2" width="2.2" height="1.2" fill="#555"/><rect x="869.5" y="681.2" width="2.2" height="1.2" fill="#555"/>
</svg></body></html>
